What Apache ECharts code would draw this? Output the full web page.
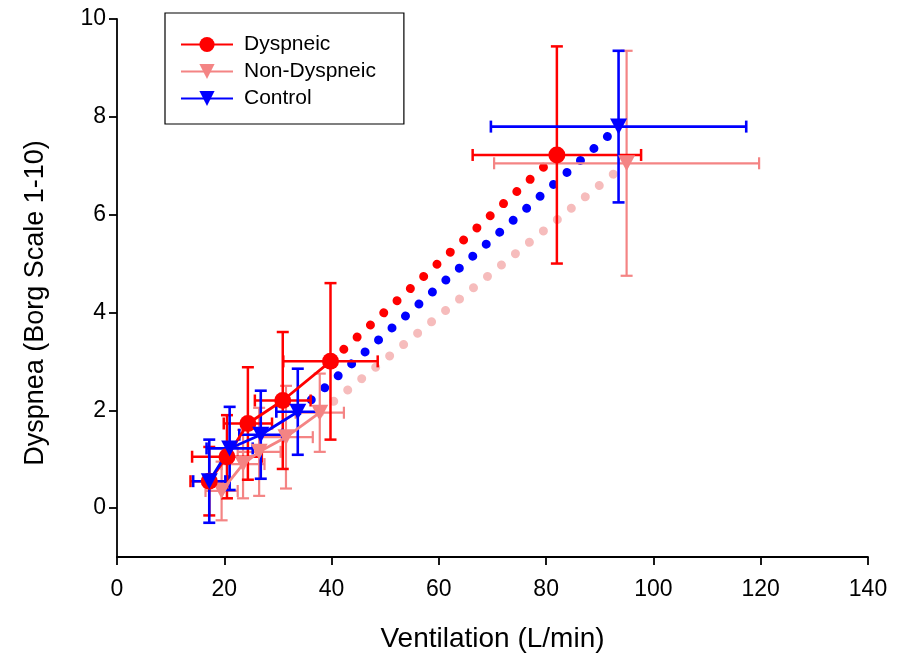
<!DOCTYPE html>
<html>
<head>
<meta charset="utf-8">
<script src="https://cdn.jsdelivr.net/npm/echarts@6/dist/echarts.min.js"></script>
<style>
  html, body { margin: 0; padding: 0; background: #fff; }
  #main { width: 904px; height: 659px; }
</style>
</head>
<body>
<div id="main"></div>
<script>
// Ventilation (L/min) vs dyspnea (Borg), mean +/- SD
var dysX = [17.2, 20.5, 24.4, 30.9, 39.8, 82.0]
var dysY = [0.55, 1.05, 1.73, 2.2, 3.0, 7.22]
var dysXErr = [3.5, 6.5, 4.5, 5.2, 8.8, 15.7]
var dysYErr = [0.7, 0.85, 1.15, 1.4, 1.6, 2.22]

var nonX = [19.5, 23.5, 26.5, 31.5, 37.8, 95.0]
var nonY = [0.35, 0.9, 1.15, 1.45, 1.95, 7.05]
var nonXErr = [3, 4, 4, 5, 4.5, 24.7]
var nonYErr = [0.6, 0.7, 0.9, 1.05, 0.8, 2.3]

var conX = [17.2, 21.0, 26.8, 33.7, 93.5]
var conY = [0.55, 1.22, 1.5, 1.97, 7.8]
var conXErr = [3, 4.3, 4, 4, 23.8]
var conYErr = [0.85, 0.85, 0.9, 0.88, 1.55]

var xTicks = [0, 20, 40, 60, 80, 100, 120, 140]
var yTicks = [0, 2, 4, 6, 8, 10]

var RED = '#ff0000'
var PINK = '#f48484'
var PINK_DOT = '#f6bcbc'
var BLUE = '#0000ff'
var FONT = 'Liberation Sans, Arial, sans-serif'

function pts(xs, ys) {
  return xs.map(function (x, i) { return [x, ys[i]] })
}
function errPts(xs, ys, ex, ey) {
  return xs.map(function (x, i) { return [x, ys[i], ex[i], ey[i]] })
}
// solid part: all but the last point; dotted part: last two points
function solidPart(xs, ys) {
  return pts(xs, ys).slice(0, xs.length - 1)
}
function dottedPart(xs, ys) {
  return pts(xs, ys).slice(xs.length - 2)
}

function errRender(color, width) {
  return function (params, api) {
    var x = api.value(0), y = api.value(1), ex = api.value(2), ey = api.value(3)
    var l = api.coord([x - ex, y]), r = api.coord([x + ex, y])
    var t = api.coord([x, y + ey]), b = api.coord([x, y - ey])
    var h = 6
    var st = { stroke: color, lineWidth: width, fill: null }
    function seg(x1, y1, x2, y2) {
      return { type: 'line', shape: { x1: x1, y1: y1, x2: x2, y2: y2 }, style: st }
    }
    return {
      type: 'group',
      children: [
        seg(l[0], l[1], r[0], r[1]),
        seg(t[0], t[1], b[0], b[1]),
        seg(l[0], l[1] - h, l[0], l[1] + h),
        seg(r[0], r[1] - h, r[0], r[1] + h),
        seg(t[0] - h, t[1], t[0] + h, t[1]),
        seg(b[0] - h, b[1], b[0] + h, b[1])
      ]
    }
  }
}

function errSeries(xs, ys, ex, ey, color, width) {
  return {
    type: 'custom',
    renderItem: errRender(color, width),
    data: errPts(xs, ys, ex, ey),
    encode: { x: 0, y: 1 },
    silent: true,
    z: 2
  }
}
function dotSeries(xs, ys, color) {
  return {
    type: 'line',
    data: dottedPart(xs, ys),
    symbol: 'none',
    lineStyle: { color: color, width: 9, type: [0.01, 18], cap: 'round' },
    silent: true,
    z: 1
  }
}
// solid line up to the second-to-last point, last point as a lone marker
function mainSeries(name, xs, ys, color, symbol, size) {
  var d = solidPart(xs, ys)
  d.push('-')
  d.push([xs[xs.length - 1], ys[ys.length - 1]])
  return {
    name: name,
    type: 'line',
    data: d,
    connectNulls: false,
    symbol: symbol,
    symbolSize: size,
    showAllSymbol: true,
    itemStyle: { color: color },
    lineStyle: { color: color, width: 2.8 },
    z: 3
  }
}

var triangle = 'path://M0,0 L10,0 L5,9 Z'

var chart = echarts.init(document.getElementById('main'))

chart.setOption({
  animation: false,
  backgroundColor: '#fff',
  textStyle: { fontFamily: FONT },
  grid: { left: 117, right: 36, top: 19, bottom: 102 },
  legend: {
    orient: 'vertical',
    left: 165,
    top: 13,
    data: ['Dyspneic', 'Non-Dyspneic', 'Control'],
    itemWidth: 52,
    itemHeight: 19,
    itemGap: 6,
    padding: [21, 28, 15, 15],
    borderColor: '#000',
    borderWidth: 1.2,
    textStyle: { fontSize: 21, color: '#000', fontFamily: FONT, padding: [0, 0, 0, 6] },
    selectedMode: false
  },
  xAxis: {
    type: 'value',
    min: 0,
    max: 140,
    interval: 20,
    name: 'Ventilation (L/min)',
    nameLocation: 'middle',
    nameGap: 68,
    nameTextStyle: { fontSize: 28, color: '#000', fontFamily: FONT },
    axisLine: { show: true, onZero: false, lineStyle: { color: '#000', width: 1.8 } },
    axisTick: { show: true, inside: false, length: 8, lineStyle: { color: '#000', width: 1.8 }, customValues: xTicks },
    axisLabel: { fontSize: 23, color: '#000', margin: 21, customValues: xTicks },
    splitLine: { show: false }
  },
  yAxis: {
    type: 'value',
    min: -1,
    max: 10,
    interval: 1,
    name: 'Dyspnea (Borg Scale 1-10)',
    nameLocation: 'middle',
    nameGap: 68,
    nameTextStyle: { fontSize: 27, color: '#000', fontFamily: FONT, padding: [0, 0, 0, -30] },
    axisLine: { show: true, onZero: false, lineStyle: { color: '#000', width: 1.8 } },
    axisTick: { show: true, inside: false, length: 8, lineStyle: { color: '#000', width: 1.8 }, customValues: yTicks },
    axisLabel: { fontSize: 23, color: '#000', margin: 11, customValues: yTicks },
    splitLine: { show: false }
  },
  series: [
    dotSeries(nonX, nonY, PINK_DOT),
    dotSeries(conX, conY, BLUE),
    dotSeries(dysX, dysY, RED),
    errSeries(nonX, nonY, nonXErr, nonYErr, PINK, 2.2),
    mainSeries('Non-Dyspneic', nonX, nonY, PINK, triangle, [17, 16]),
    errSeries(dysX, dysY, dysXErr, dysYErr, RED, 2.5),
    mainSeries('Dyspneic', dysX, dysY, RED, 'circle', 17),
    errSeries(conX, conY, conXErr, conYErr, BLUE, 2.6),
    mainSeries('Control', conX, conY, BLUE, triangle, [17, 16])
  ]
})
</script>
</body>
</html>
